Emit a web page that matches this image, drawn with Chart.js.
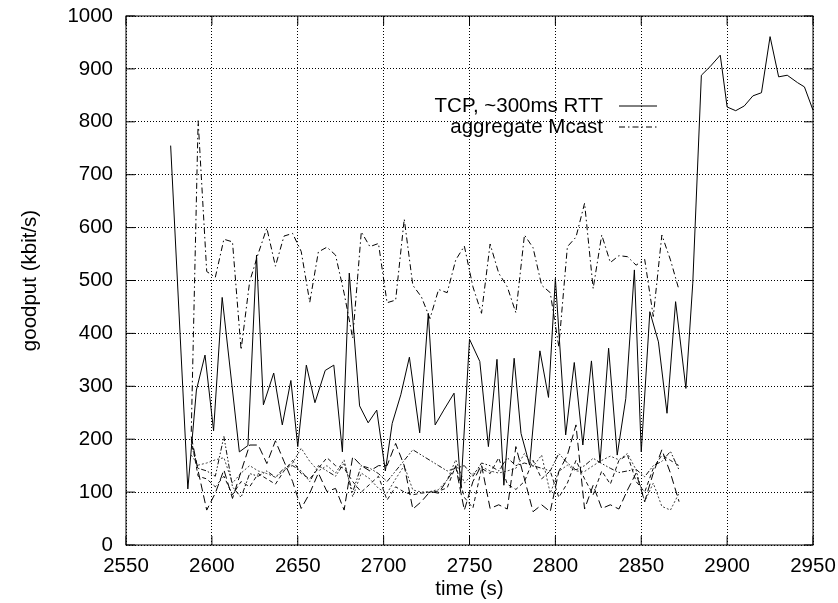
<!DOCTYPE html>
<html>
<head>
<meta charset="utf-8">
<script src="https://cdn.jsdelivr.net/npm/chart.js@4.4.1/dist/chart.umd.min.js"></script>
<style>
  html, body { margin: 0; padding: 0; background: #fff; }
  #wrap { width: 838px; height: 603px; }
</style>
</head>
<body>
<div id="wrap"><canvas id="goodputChart" width="838" height="603"></canvas></div>
<script>
// TCP goodput samples (time in s, kbit/s)
const tcpTime = [2576, 2586, 2591, 2596, 2601, 2606, 2616, 2621, 2626, 2630, 2636, 2641, 2646, 2650,
  2655, 2660, 2666, 2671, 2676, 2680, 2686, 2691, 2696, 2701, 2705, 2710, 2715, 2721, 2726, 2730,
  2735, 2741, 2745, 2750, 2756, 2761, 2766, 2770, 2776, 2780, 2785, 2791, 2796, 2800, 2806, 2811,
  2816, 2821, 2826, 2831, 2836, 2841, 2846, 2850, 2855, 2860, 2865, 2870, 2876, 2880, 2885, 2890,
  2896, 2900, 2905, 2910, 2915, 2920, 2925, 2930, 2935, 2941, 2945, 2950];
const tcpRate = [755, 106, 293, 359, 216, 468, 176, 188, 548, 265, 325, 227, 311, 186,
  340, 269, 330, 340, 176, 514, 263, 231, 255, 140, 230, 284, 355, 212, 438, 227,
  255, 287, 107, 389, 347, 186, 351, 113, 353, 211, 151, 367, 279, 504, 208, 345,
  189, 348, 156, 372, 170, 277, 520, 176, 441, 384, 249, 460, 296, 495, 888, 904,
  926, 828, 821, 830, 849, 855, 961, 885, 888, 874, 866, 822];

// multicast samples share one time base
const mcastTime = [2588, 2592, 2597, 2602, 2607, 2612, 2617, 2622, 2627, 2632, 2637, 2642, 2647, 2652,
  2657, 2662, 2667, 2672, 2677, 2682, 2687, 2692, 2697, 2702, 2707, 2712, 2717, 2722, 2727, 2732,
  2737, 2742, 2747, 2752, 2757, 2762, 2767, 2772, 2777, 2782, 2787, 2792, 2797, 2802, 2807, 2812,
  2817, 2822, 2827, 2832, 2837, 2842, 2847, 2852, 2857, 2862, 2867, 2872];
const mcastAggregate = [214, 802, 517, 506, 578, 573, 369, 498, 551, 599, 527, 584, 589, 555,
  459, 554, 563, 548, 476, 391, 592, 564, 570, 458, 463, 616, 491, 469, 428, 483,
  477, 539, 565, 488, 438, 569, 514, 488, 439, 586, 562, 491, 477, 375, 564, 582,
  646, 485, 586, 534, 547, 545, 529, 540, 432, 586, 539, 482];
const recv1 = [205, 140, 66, 98, 142, 88, 139, 189, 189, 154, 197, 158, 120, 69,
  98, 136, 101, 107, 66, 167, 150, 140, 150, 150, 192, 150, 68, 82, 101, 98,
  123, 148, 66, 120, 151, 69, 76, 68, 186, 125, 63, 76, 63, 139, 170, 227,
  68, 113, 69, 76, 68, 104, 136, 82, 136, 180, 136, 82];
const recv2 = [170, 151, 155, 161, 165, 117, 136, 150, 140, 135, 128, 140, 155, 183,
  158, 140, 150, 136, 161, 91, 136, 125, 107, 98, 125, 150, 104, 100, 101, 105,
  123, 161, 117, 135, 148, 140, 136, 140, 145, 173, 148, 170, 98, 139, 151, 140,
  139, 150, 160, 168, 161, 173, 142, 82, 117, 73, 66, 98];
const recv3 = [190, 145, 140, 130, 205, 110, 90, 135, 130, 140, 128, 145, 150, 140,
  120, 150, 140, 130, 155, 100, 150, 145, 135, 120, 140, 160, 180, 170, 160, 150,
  140, 145, 150, 130, 155, 150, 140, 165, 150, 155, 150, 145, 140, 173, 155, 142,
  150, 164, 154, 145, 137, 140, 143, 129, 150, 158, 177, 142];
const recv4 = [200, 130, 125, 110, 130, 95, 120, 110, 135, 125, 115, 140, 160, 135,
  125, 145, 165, 150, 145, 120, 100, 115, 130, 85, 110, 100, 95, 98, 100, 102,
  108, 150, 90, 70, 145, 135, 165, 115, 105, 120, 160, 125, 140, 90, 117, 160,
  125, 95, 140, 115, 160, 170, 120, 100, 145, 170, 160, 150];

const xTicks = [2550, 2600, 2650, 2700, 2750, 2800, 2850, 2900, 2950];
const yTicks = [0, 100, 200, 300, 400, 500, 600, 700, 800, 900, 1000];

const pairs = (xs, ys) => xs.map((x, i) => ({ x: x, y: ys[i] }));

const FONT = "'Liberation Sans', Arial, sans-serif";
Chart.defaults.font.family = FONT;
Chart.defaults.font.size = 20.5;
Chart.defaults.color = '#000';

const gnuplotFrame = {
  id: 'gnuplotFrame',
  afterDraw(chart) {
    const { ctx, chartArea: { left, right, top, bottom }, scales: { x, y } } = chart;
    ctx.save();
    ctx.strokeStyle = '#000';
    ctx.lineWidth = 1;
    ctx.setLineDash([]);
    ctx.strokeRect(left, top, right - left, bottom - top);
    ctx.beginPath();
    xTicks.forEach(v => {
      const px = x.getPixelForValue(v);
      ctx.moveTo(px, bottom); ctx.lineTo(px, bottom - 9);
      ctx.moveTo(px, top); ctx.lineTo(px, top + 9);
    });
    yTicks.forEach(v => {
      const py = y.getPixelForValue(v);
      ctx.moveTo(left, py); ctx.lineTo(left + 9, py);
      ctx.moveTo(right, py); ctx.lineTo(right - 9, py);
    });
    ctx.stroke();

    // key, gnuplot style: text right aligned, sample to the right
    ctx.font = '20.5px ' + FONT;
    ctx.fillStyle = '#000';
    ctx.textAlign = 'right';
    ctx.textBaseline = 'middle';
    const keys = chart.data.datasets.filter(d => d.label);
    keys.forEach((d, i) => {
      const ky = 106 + i * 21;
      ctx.fillText(d.label, 603, ky);
      ctx.strokeStyle = d.borderColor;
      ctx.setLineDash(d.borderDash || []);
      ctx.lineWidth = d.borderWidth;
      ctx.beginPath();
      ctx.moveTo(619, ky); ctx.lineTo(657, ky);
      ctx.stroke();
    });
    ctx.restore();
  }
};

const ctx = document.getElementById('goodputChart').getContext('2d');
new Chart(ctx, {
  type: 'line',
  data: {
    datasets: [
      { label: 'TCP, ~300ms RTT', data: pairs(tcpTime, tcpRate), borderColor: '#000', borderWidth: 1, borderDash: [] },
      { label: 'aggregate Mcast', data: pairs(mcastTime, mcastAggregate), borderColor: '#000', borderWidth: 1, borderDash: [6, 3, 1.5, 3] },
      { label: '', data: pairs(mcastTime, recv1), borderColor: '#000', borderWidth: 1, borderDash: [8, 4] },
      { label: '', data: pairs(mcastTime, recv2), borderColor: '#444', borderWidth: 1, borderDash: [2, 2] },
      { label: '', data: pairs(mcastTime, recv3), borderColor: '#111', borderWidth: 1, borderDash: [5, 2, 1.5, 2, 1.5, 2] },
      { label: '', data: pairs(mcastTime, recv4), borderColor: '#111', borderWidth: 1, borderDash: [4, 3] }
    ]
  },
  options: {
    responsive: false,
    animation: false,
    layout: { padding: { left: 0, right: 25, top: 16, bottom: 0 } },
    elements: { point: { radius: 0 }, line: { tension: 0, fill: false } },
    plugins: { legend: { display: false }, tooltip: { enabled: false } },
    scales: {
      x: {
        type: 'linear',
        min: 2550, max: 2950,
        afterBuildTicks: s => { s.ticks = xTicks.map(v => ({ value: v })); },
        afterFit: s => { s.height = 58; s.paddingLeft = 0; s.paddingRight = 0; },
        grid: { color: '#000', lineWidth: 1, drawTicks: false },
        border: { display: false, dash: [1, 2] },
        ticks: { padding: 9, maxRotation: 0, callback: v => String(v) },
        title: { display: true, text: 'time (s)', padding: { top: 0, bottom: 1 } }
      },
      y: {
        min: 0, max: 1000,
        afterBuildTicks: s => { s.ticks = yTicks.map(v => ({ value: v })); },
        afterFit: s => { s.width = 126; s.paddingTop = 0; s.paddingBottom = 0; },
        grid: { color: '#000', lineWidth: 1, drawTicks: false },
        border: { display: false, dash: [1, 2] },
        ticks: { padding: 13, callback: v => String(v) },
        title: { display: true, text: 'goodput (kbit/s)', padding: { top: 18, bottom: 0 } }
      }
    }
  },
  plugins: [gnuplotFrame]
});
</script>
</body>
</html>
